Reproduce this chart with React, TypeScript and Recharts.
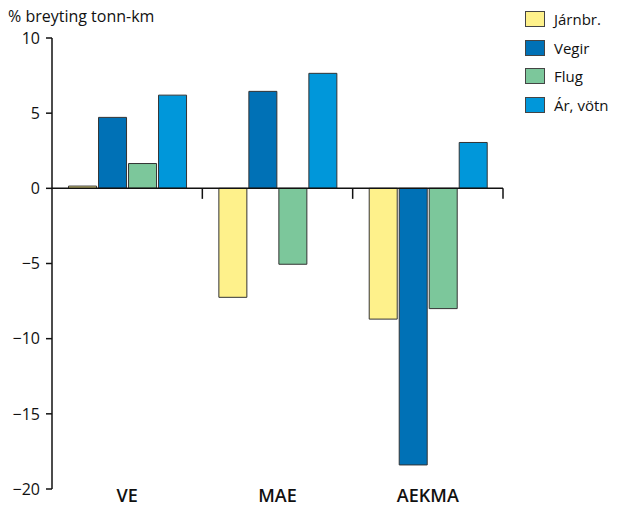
import React from "react";
import { BarChart, Bar, XAxis, YAxis, ReferenceLine } from "recharts";

const categories = ["VE", "MAE", "AEKMA"];
const jarnbr = [0.15, -7.25, -8.7];
const vegir = [4.72, 6.45, -18.4];
const flug = [1.65, -5.05, -8.0];
const arVotn = [6.2, 7.65, 3.05];
const yTicks = [10, 5, 0, -5, -10, -15, -20];
const boundaries = [1, 2, 3];

const seriesNames = ["Járnbr.", "Vegir", "Flug", "Ár, vötn"];
const seriesKeys = ["jarnbr", "vegir", "flug", "arVotn"];
const seriesColors = ["#FEF18B", "#0071B6", "#7CC79B", "#0097DA"];

const data = categories.map((c, i) => ({
  name: c,
  jarnbr: jarnbr[i],
  vegir: vegir[i],
  flug: flug[i],
  arVotn: arVotn[i],
}));

const FONT = "'Open Sans', 'DejaVu Sans', sans-serif";

const LegendBox = () => (
  <div
    style={{
      position: "absolute",
      left: 525,
      top: 5,
      fontFamily: FONT,
      fontSize: 15,
      color: "#111",
    }}
  >
    {seriesNames.map((n, i) => (
      <div
        key={n}
        style={{ display: "flex", alignItems: "center", height: 28.5 }}
      >
        <div
          style={{
            width: 18,
            height: 14,
            background: seriesColors[i],
            border: "1px solid #444",
            marginRight: 9,
          }}
        />
        <span>{n}</span>
      </div>
    ))}
  </div>
);

export default function App() {
  return (
    <div
      style={{
        position: "absolute",
        left: 0,
        top: 0,
        width: 627,
        height: 507,
        background: "#fff",
      }}
    >
      <div
        style={{
          position: "absolute",
          left: 8,
          top: 5,
          fontFamily: FONT,
          fontSize: 16,
          color: "#111",
          whiteSpace: "nowrap",
        }}
      >
        % breyting tonn-km
      </div>
      <LegendBox />
      <BarChart
        width={627}
        height={507}
        data={data}
        margin={{ top: 38, right: 124, left: 0, bottom: 0 }}
        barCategoryGap="11%"
        barGap={2}
      >
        <XAxis
          dataKey="name"
          axisLine={false}
          tickLine={false}
          tickSize={0}
          tickMargin={0}
          height={18}
          tick={{
            fontFamily: FONT,
            fontSize: 18,
            fontWeight: 600,
            fill: "#111",
          }}
        />
        <XAxis
          xAxisId="n"
          type="number"
          dataKey="idx"
          domain={[0, 3]}
          hide
          allowDataOverflow
          height={0}
        />
        <YAxis
          width={52}
          domain={[-20, 10]}
          ticks={yTicks}
          interval={0}
          allowDataOverflow
          tickSize={6}
          tickMargin={6}
          axisLine={{ stroke: "#111", strokeWidth: 1.5 }}
          tickLine={{ stroke: "#111", strokeWidth: 1.5 }}
          tickFormatter={(v: number) => String(v).replace("-", "\u2212")}
          tick={{ fontFamily: FONT, fontSize: 16, fill: "#111" }}
        />
        {seriesKeys.map((k, i) => (
          <Bar
            key={k}
            dataKey={k}
            name={seriesNames[i]}
            fill={seriesColors[i]}
            stroke="#333"
            strokeWidth={1}
            isAnimationActive={false}
          />
        ))}
        <ReferenceLine y={0} stroke="#111" strokeWidth={1.5} />
        {boundaries.map((b) => (
          <ReferenceLine
            key={b}
            xAxisId="n"
            segment={[
              { x: b, y: 0 },
              { x: b, y: -0.7 },
            ]}
            stroke="#111"
            strokeWidth={1.5}
            ifOverflow="visible"
          />
        ))}
      </BarChart>
    </div>
  );
}
